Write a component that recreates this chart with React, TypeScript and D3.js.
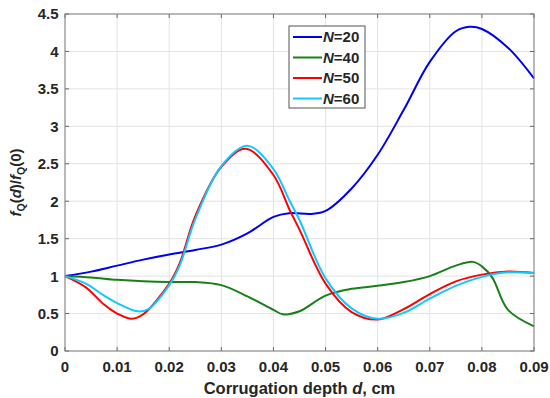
import React from 'react';
import * as d3 from 'd3';

interface Pt {
  d: number;
  v: number;
}

const xTicks = [0, 0.01, 0.02, 0.03, 0.04, 0.05, 0.06, 0.07, 0.08, 0.09];
const yTicks = [0, 0.5, 1, 1.5, 2, 2.5, 3, 3.5, 4, 4.5];

const seriesNames = ['N=20', 'N=40', 'N=50', 'N=60'];
const seriesColors = ['#0000f0', '#198019', '#ff0000', '#10c8ff'];

// values
const n20: [number, number][] = [
  [0, 1], [0.005, 1.06], [0.01, 1.14], [0.015, 1.22], [0.02, 1.29], [0.025, 1.35],
  [0.03, 1.42], [0.035, 1.57], [0.04, 1.79], [0.043, 1.84], [0.0473, 1.83],
  [0.05, 1.87], [0.055, 2.17], [0.06, 2.62], [0.065, 3.22], [0.07, 3.86],
  [0.075, 4.27], [0.0777, 4.33], [0.08, 4.3], [0.085, 4.05], [0.09, 3.64],
];
const n40: [number, number][] = [
  [0, 1], [0.005, 0.98], [0.01, 0.95], [0.015, 0.93], [0.02, 0.92], [0.025, 0.92],
  [0.03, 0.88], [0.035, 0.73], [0.04, 0.55], [0.0418, 0.49], [0.045, 0.53],
  [0.05, 0.74], [0.055, 0.83], [0.06, 0.87], [0.065, 0.92], [0.07, 1.0],
  [0.075, 1.14], [0.0783, 1.19], [0.08, 1.13], [0.082, 0.98], [0.085, 0.55], [0.09, 0.33],
];
const n50: [number, number][] = [
  [0, 1], [0.004, 0.85], [0.0075, 0.62], [0.01, 0.5], [0.0128, 0.43], [0.015, 0.49],
  [0.02, 0.9], [0.022, 1.17], [0.025, 1.8], [0.03, 2.46], [0.0347, 2.7],
  [0.04, 2.35], [0.043, 1.9], [0.045, 1.62], [0.05, 0.9], [0.055, 0.52],
  [0.06, 0.42], [0.065, 0.56], [0.07, 0.76], [0.075, 0.93], [0.08, 1.02],
  [0.085, 1.06], [0.09, 1.04],
];
const n60: [number, number][] = [
  [0, 1], [0.004, 0.9], [0.0075, 0.74], [0.01, 0.64], [0.0139, 0.53], [0.016, 0.56],
  [0.02, 0.88], [0.022, 1.14], [0.025, 1.76], [0.03, 2.47], [0.035, 2.74],
  [0.04, 2.43], [0.043, 2.02], [0.045, 1.75], [0.05, 0.97], [0.055, 0.57],
  [0.06, 0.43], [0.065, 0.51], [0.07, 0.7], [0.075, 0.87], [0.08, 0.99],
  [0.085, 1.05], [0.09, 1.04],
];

const seriesValues = [n20, n40, n50, n60];

const W = 550;
const H = 398;
const margin = { left: 65, right: 16, top: 14, bottom: 47 };
const font = '"Liberation Sans", Arial, sans-serif';
const textColor = '#262626';

export default function App() {
  const x = d3.scaleLinear().domain([0, 0.09]).range([margin.left, W - margin.right]);
  const y = d3.scaleLinear().domain([0, 4.5]).range([H - margin.bottom, margin.top]);
  const line = d3
    .line<Pt>()
    .x((p) => x(p.d))
    .y((p) => y(p.v))
    .curve(d3.curveCatmullRom.alpha(0.5));

  const [x0, x1] = x.range();
  const [y0, y1] = y.range();

  const legendX = 289;
  const legendY = 26;

  return (
    <div style={{ position: 'fixed', left: 0, top: 0, background: '#fff' }}>
      <svg width={W} height={H} style={{ display: 'block' }}>
        <rect x={0} y={0} width={W} height={H} fill="#fff" />
        {/* grid */}
        {xTicks.map((t) => (
          <line key={'gx' + t} x1={x(t)} x2={x(t)} y1={y0} y2={y1} stroke="#e3e3e3" strokeWidth={1} />
        ))}
        {yTicks.map((t) => (
          <line key={'gy' + t} x1={x0} x2={x1} y1={y(t)} y2={y(t)} stroke="#e3e3e3" strokeWidth={1} />
        ))}
        {/* ticks */}
        {xTicks.map((t) => (
          <g key={'tx' + t}>
            <line x1={x(t)} x2={x(t)} y1={y0} y2={y0 - 4} stroke="#666" />
            <line x1={x(t)} x2={x(t)} y1={y1} y2={y1 + 4} stroke="#666" />
            <text
              x={x(t)}
              y={y0 + 21}
              textAnchor="middle"
              fontFamily={font}
              fontWeight="bold"
              fontSize={15}
              fill={textColor}
            >
              {t === 0 ? '0' : t.toFixed(2)}
            </text>
          </g>
        ))}
        {yTicks.map((t) => (
          <g key={'ty' + t}>
            <line x1={x0} x2={x0 + 4} y1={y(t)} y2={y(t)} stroke="#666" />
            <line x1={x1} x2={x1 - 4} y1={y(t)} y2={y(t)} stroke="#666" />
            <text
              x={x0 - 6.5}
              y={y(t)}
              dy="0.36em"
              textAnchor="end"
              fontFamily={font}
              fontWeight="bold"
              fontSize={15}
              fill={textColor}
            >
              {t}
            </text>
          </g>
        ))}
        {/* lines */}
        {seriesValues.map((s, i) => (
          <path
            key={seriesNames[i]}
            d={line(s.map(([d, v]) => ({ d, v }))) || ''}
            fill="none"
            stroke={seriesColors[i]}
            strokeWidth={2}
          />
        ))}
        {/* frame */}
        <rect x={x0} y={y1} width={x1 - x0} height={y0 - y1} fill="none" stroke="#808080" strokeWidth={1} />
        {/* axis labels */}
        <text
          x={(x0 + x1) / 2}
          y={H - 4}
          textAnchor="middle"
          fontFamily={font}
          fontWeight="bold"
          fontSize={16.5}
          fill={textColor}
        >
          Corrugation depth <tspan fontStyle="italic">d</tspan>, cm
        </text>
        <text
          transform={`translate(21, ${(y0 + y1) / 2}) rotate(-90)`}
          textAnchor="middle"
          fontFamily={font}
          fontWeight="bold"
          fontSize={15}
          fill={textColor}
        >
          <tspan fontStyle="italic">f</tspan>
          <tspan fontSize={10.5} dy={4}>Q</tspan>
          <tspan dy={-4}>(</tspan>
          <tspan fontStyle="italic">d</tspan>
          <tspan>)/</tspan>
          <tspan fontStyle="italic">f</tspan>
          <tspan fontSize={10.5} dy={4}>Q</tspan>
          <tspan dy={-4}>(0)</tspan>
        </text>
        {/* legend */}
        <rect x={legendX} y={legendY} width={76} height={82} fill="#fff" stroke="#555" strokeWidth={1} />
        {seriesNames.map((n, i) => {
          const ly = legendY + 11 + i * 20.5;
          return (
            <g key={'lg' + n}>
              <line x1={legendX + 4} x2={legendX + 33} y1={ly} y2={ly} stroke={seriesColors[i]} strokeWidth={2} />
              <text
                x={legendX + 34}
                y={ly}
                dy="0.36em"
                fontFamily={font}
                fontWeight="bold"
                fontSize={15}
                fill={textColor}
              >
                <tspan fontStyle="italic">N</tspan>
                {n.slice(1)}
              </text>
            </g>
          );
        })}
      </svg>
    </div>
  );
}
